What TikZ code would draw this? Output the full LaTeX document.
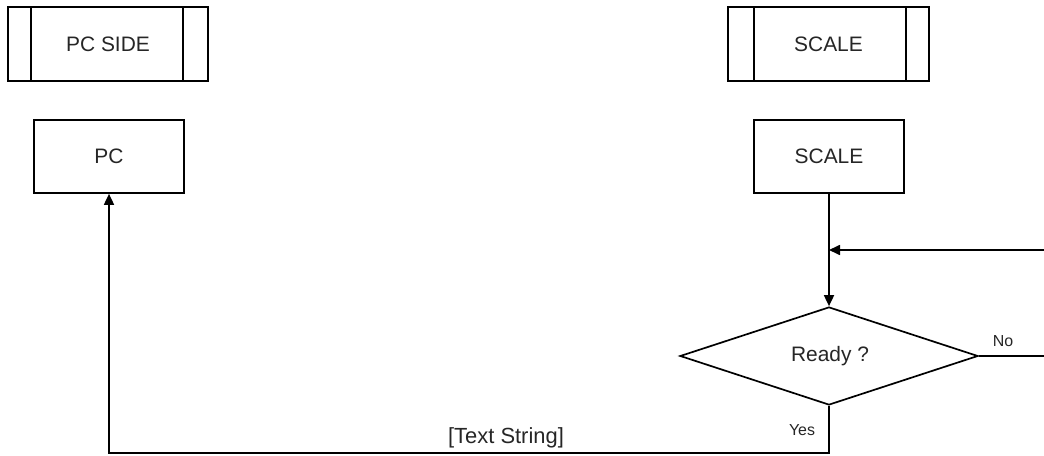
\documentclass[tikz,border=0pt]{standalone}
\usepackage{fontspec}
\setmainfont{Liberation Sans}
\usetikzlibrary{arrows.meta,shapes.geometric}
\begin{document}
\begin{tikzpicture}[x=1bp,y=-1bp,
  line width=1.7bp,
  boxlabel/.style={font=\fontsize{21}{25}\selectfont, text=black!85},
  procbox/.style={draw, rectangle, minimum width=150bp, minimum height=73bp, inner sep=0pt, boxlabel},
  sidebox/.style={draw, rectangle, minimum height=74bp, inner sep=0pt, boxlabel},
  decision/.style={draw, diamond, aspect=3.04, minimum width=298bp, minimum height=98bp, inner sep=0pt},
  smalllabel/.style={font=\fontsize{16}{19}\selectfont, text=black!85, inner sep=0pt, anchor=base},
  arr/.style={-{Triangle[length=11bp,width=10bp]}}
]
\useasboundingbox[fill=white] (0,0) rectangle (1044,456);

% header boxes with side bars
\node[sidebox, minimum width=200bp] (pcside) at (108,44) {PC SIDE};
\draw ([xshift=24bp]pcside.north west) -- ([xshift=24bp]pcside.south west);
\draw ([xshift=-26bp]pcside.north east) -- ([xshift=-26bp]pcside.south east);

\node[sidebox, minimum width=201bp] (scaleside) at (828.5,44) {SCALE};
\draw ([xshift=27bp]scaleside.north west) -- ([xshift=27bp]scaleside.south west);
\draw ([xshift=-24bp]scaleside.north east) -- ([xshift=-24bp]scaleside.south east);

% process boxes
\node[procbox] (pc) at (109,156.5) {PC};
\node[procbox] (scale) at (829,156.5) {SCALE};

% decision
\node[decision] (ready) at (829,356) {};
\node[boxlabel, anchor=base, inner sep=0pt] (readylbl) at (830,362) {Ready ?};

% connectors
\coordinate (join) at (829,250);
\coordinate (rtop) at (1052,250);
\coordinate (rno) at (1052,356);
\coordinate (bot) at (829,453);

\draw (scale.south) -- (join);
\draw[arr] (join) -- (ready.north);
\draw[arr] (ready.east) -- (rno) -- (rtop) -- (join);
\draw[arr] (ready.south) -- (bot) -| (pc.south);

% labels
\node[smalllabel] (no) at (1003,347) {No};
\node[smalllabel] (yes) at (802,435) {Yes};
\node[font=\fontsize{22}{26}\selectfont, text=black!85, inner sep=0pt, anchor=base] (txt) at (506,443) {[Text String]};
\end{tikzpicture}
\end{document}
